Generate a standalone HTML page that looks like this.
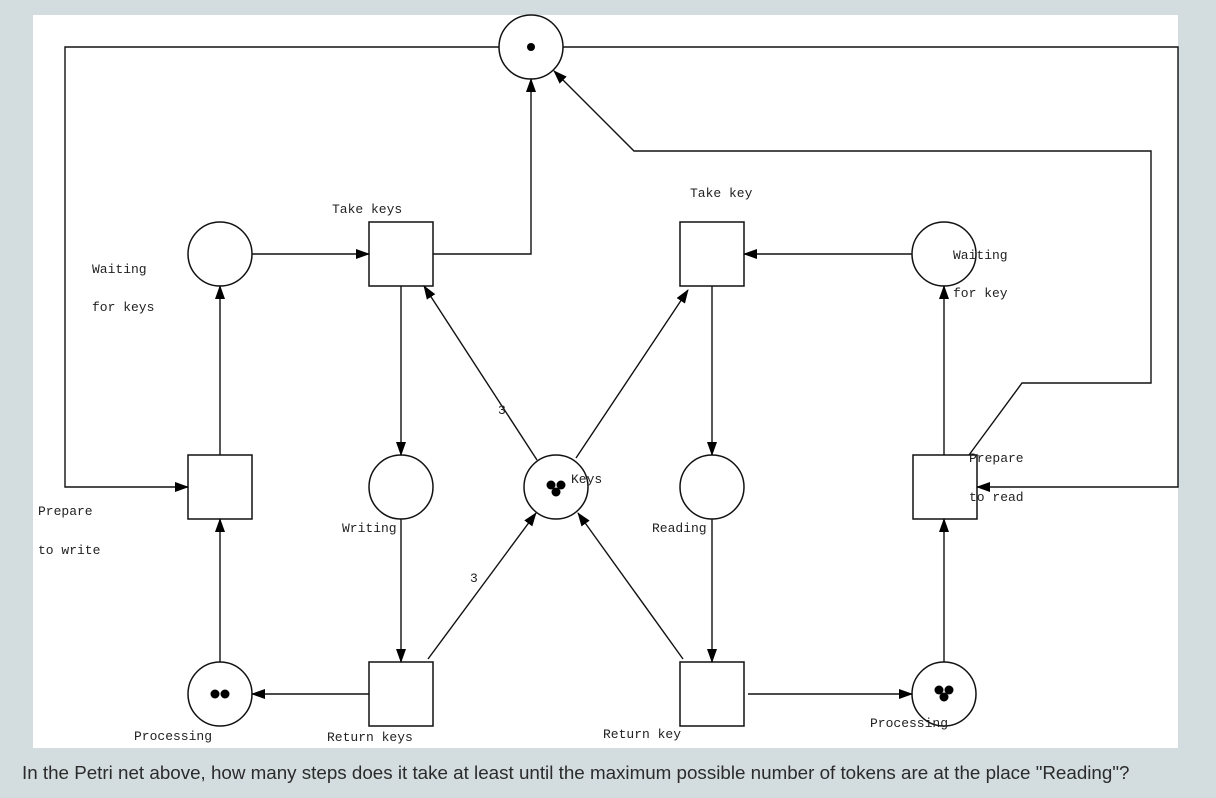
<!DOCTYPE html>
<html><head><meta charset="utf-8"><style>
html,body{margin:0;padding:0;background:#d3dcdf;width:1216px;height:798px;overflow:hidden}
svg{position:absolute;left:0;top:0}
.q{position:absolute;left:22px;top:762px;font:18.8px "Liberation Sans",sans-serif;color:#2b2b2b;white-space:nowrap}
text{font-family:"Liberation Mono",monospace;font-size:13px;fill:#222}
</style></head><body>
<svg width="1216" height="798" viewBox="0 0 1216 798">
<defs><marker id="a" markerWidth="14" markerHeight="10" refX="13" refY="5" orient="auto" markerUnits="userSpaceOnUse"><path d="M0,0 L14,5 L0,10 z" fill="#000"/></marker></defs>
<rect x="33" y="15" width="1145" height="733" fill="#fff"/>
<g stroke="#111" stroke-width="1.5" fill="none">
<circle cx="531" cy="47" r="32"/>
<circle cx="220" cy="254" r="32"/>
<circle cx="944" cy="254" r="32"/>
<circle cx="401" cy="487" r="32"/>
<circle cx="556" cy="487" r="32"/>
<circle cx="712" cy="487" r="32"/>
<circle cx="220" cy="694" r="32"/>
<circle cx="944" cy="694" r="32"/>
<rect x="369" y="222" width="64" height="64"/>
<rect x="680" y="222" width="64" height="64"/>
<rect x="188" y="455" width="64" height="64"/>
<rect x="913" y="455" width="64" height="64"/>
<rect x="369" y="662" width="64" height="64"/>
<rect x="680" y="662" width="64" height="64"/>
</g>
<g stroke="#111" stroke-width="1.4" fill="none" marker-end="url(#a)">
<polyline points="499,47 65,47 65,487 188,487"/>
<polyline points="563,47 1178,47 1178,487 977,487"/>
<polyline points="433,254 531,254 531,79"/>
<polyline points="969,455 1022,383 1151,383 1151,151 634,151 554,71"/>
<line x1="252" y1="254" x2="369" y2="254"/>
<line x1="401" y1="286" x2="401" y2="455"/>
<line x1="537" y1="460" x2="424" y2="286"/>
<line x1="220" y1="455" x2="220" y2="286"/>
<line x1="220" y1="662" x2="220" y2="519"/>
<line x1="369" y1="694" x2="252" y2="694"/>
<line x1="401" y1="519" x2="401" y2="662"/>
<line x1="428" y1="659" x2="536" y2="513"/>
<line x1="576" y1="458" x2="688" y2="290"/>
<line x1="912" y1="254" x2="744" y2="254"/>
<line x1="712" y1="286" x2="712" y2="455"/>
<line x1="712" y1="519" x2="712" y2="662"/>
<line x1="683" y1="659" x2="578" y2="513"/>
<line x1="748" y1="694" x2="912" y2="694"/>
<line x1="944" y1="662" x2="944" y2="519"/>
<line x1="944" y1="455" x2="944" y2="286"/>
</g>
<g fill="#000">
<circle cx="531" cy="47" r="4"/>
<circle cx="551" cy="485" r="4.5"/><circle cx="561" cy="485" r="4.5"/><circle cx="556" cy="492" r="4.5"/>
<circle cx="215" cy="694" r="4.5"/><circle cx="225" cy="694" r="4.5"/>
<circle cx="939" cy="690" r="4.5"/><circle cx="949" cy="690" r="4.5"/><circle cx="944" cy="697" r="4.5"/>
</g>
<text x="332" y="213">Take keys</text>
<text x="690" y="197">Take key</text>
<text x="92" y="273">Waiting</text>
<text x="92" y="311">for keys</text>
<text x="953" y="259">Waiting</text>
<text x="953" y="297">for key</text>
<text x="38" y="515">Prepare</text>
<text x="38" y="554">to write</text>
<text x="969" y="462">Prepare</text>
<text x="969" y="501">to read</text>
<text x="342" y="532">Writing</text>
<text x="652" y="532">Reading</text>
<text x="571" y="483">Keys</text>
<text x="498" y="414">3</text>
<text x="470" y="582">3</text>
<text x="134" y="740">Processing</text>
<text x="327" y="741">Return keys</text>
<text x="603" y="738">Return key</text>
<text x="870" y="727">Processing</text>
</svg>
<div class="q">In the Petri net above, how many steps does it take at least until the maximum possible number of tokens are at the place "Reading"?</div>
</body></html>
